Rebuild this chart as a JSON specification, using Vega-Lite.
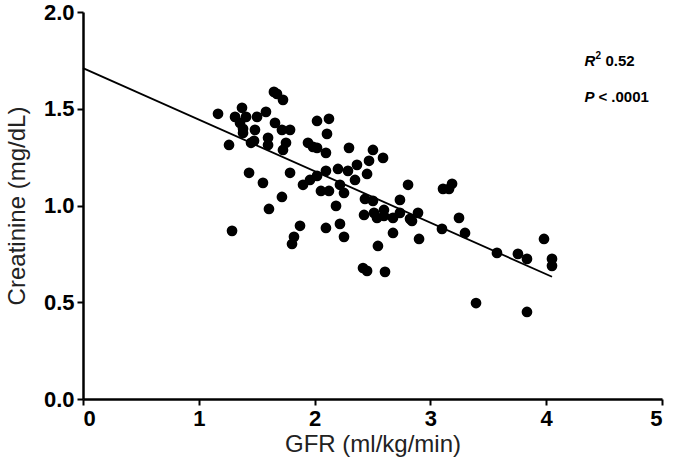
{
  "$schema": "https://vega.github.io/schema/vega-lite/v6.json",
  "width": 579,
  "height": 387,
  "autosize": "none",
  "padding": {"left": 83, "top": 12, "right": 11, "bottom": 68},
  "background": "white",
  "config": {
    "view": {"stroke": null},
    "font": "Liberation Sans",
    "axis": {
      "grid": false,
      "domainColor": "black",
      "domainWidth": 2.5,
      "tickColor": "black",
      "tickWidth": 2,
      "tickSize": 6,
      "labelFont": "Liberation Sans",
      "labelFontWeight": "bold",
      "labelFontSize": 22,
      "labelColor": "black",
      "titleFont": "Liberation Sans",
      "titleFontWeight": "normal",
      "titleFontSize": 24,
      "titleColor": "#222"
    }
  },
  "datasets": {
    "pts": [
      {"gfr": 1.166, "cr": 1.474}, {"gfr": 1.261, "cr": 1.313}, {"gfr": 1.287, "cr": 0.869},
      {"gfr": 1.373, "cr": 1.505}, {"gfr": 1.313, "cr": 1.458}, {"gfr": 1.408, "cr": 1.458},
      {"gfr": 1.356, "cr": 1.427}, {"gfr": 1.382, "cr": 1.396}, {"gfr": 1.382, "cr": 1.375},
      {"gfr": 1.485, "cr": 1.391}, {"gfr": 1.503, "cr": 1.458}, {"gfr": 1.58, "cr": 1.484},
      {"gfr": 1.451, "cr": 1.324}, {"gfr": 1.477, "cr": 1.334}, {"gfr": 1.598, "cr": 1.35},
      {"gfr": 1.598, "cr": 1.313}, {"gfr": 1.658, "cr": 1.427}, {"gfr": 1.649, "cr": 1.587},
      {"gfr": 1.675, "cr": 1.577}, {"gfr": 1.727, "cr": 1.546}, {"gfr": 1.718, "cr": 1.391},
      {"gfr": 1.788, "cr": 1.391}, {"gfr": 1.753, "cr": 1.324}, {"gfr": 1.727, "cr": 1.287},
      {"gfr": 2.021, "cr": 1.437}, {"gfr": 2.124, "cr": 1.448}, {"gfr": 2.107, "cr": 1.37},
      {"gfr": 1.943, "cr": 1.324}, {"gfr": 1.986, "cr": 1.303}, {"gfr": 2.021, "cr": 1.298},
      {"gfr": 2.098, "cr": 1.272}, {"gfr": 1.434, "cr": 1.169}, {"gfr": 1.554, "cr": 1.117},
      {"gfr": 1.788, "cr": 1.169}, {"gfr": 1.9, "cr": 1.107}, {"gfr": 1.96, "cr": 1.132},
      {"gfr": 2.021, "cr": 1.153}, {"gfr": 2.055, "cr": 1.075}, {"gfr": 2.124, "cr": 1.075},
      {"gfr": 1.718, "cr": 1.044}, {"gfr": 1.606, "cr": 0.982}, {"gfr": 1.874, "cr": 0.895},
      {"gfr": 1.822, "cr": 0.838}, {"gfr": 1.805, "cr": 0.801}, {"gfr": 2.098, "cr": 0.884},
      {"gfr": 2.297, "cr": 1.298}, {"gfr": 2.504, "cr": 1.287}, {"gfr": 2.591, "cr": 1.246},
      {"gfr": 2.47, "cr": 1.231}, {"gfr": 2.366, "cr": 1.21}, {"gfr": 2.202, "cr": 1.189},
      {"gfr": 2.288, "cr": 1.179}, {"gfr": 2.098, "cr": 1.179}, {"gfr": 2.453, "cr": 1.163},
      {"gfr": 2.349, "cr": 1.132}, {"gfr": 2.219, "cr": 1.107}, {"gfr": 2.807, "cr": 1.107},
      {"gfr": 2.254, "cr": 1.065}, {"gfr": 3.109, "cr": 1.086}, {"gfr": 3.161, "cr": 1.086},
      {"gfr": 3.187, "cr": 1.112}, {"gfr": 2.435, "cr": 1.034}, {"gfr": 2.504, "cr": 1.024},
      {"gfr": 2.737, "cr": 1.029}, {"gfr": 2.185, "cr": 0.998}, {"gfr": 2.427, "cr": 0.951},
      {"gfr": 2.513, "cr": 0.962}, {"gfr": 2.539, "cr": 0.936}, {"gfr": 2.599, "cr": 0.977},
      {"gfr": 2.599, "cr": 0.946}, {"gfr": 2.677, "cr": 0.936}, {"gfr": 2.737, "cr": 0.962},
      {"gfr": 2.824, "cr": 0.931}, {"gfr": 2.893, "cr": 0.962}, {"gfr": 3.1, "cr": 0.879},
      {"gfr": 2.219, "cr": 0.905}, {"gfr": 2.254, "cr": 0.838}, {"gfr": 2.677, "cr": 0.858},
      {"gfr": 2.902, "cr": 0.827}, {"gfr": 2.547, "cr": 0.791}, {"gfr": 2.418, "cr": 0.677},
      {"gfr": 2.453, "cr": 0.662}, {"gfr": 2.608, "cr": 0.657}, {"gfr": 3.247, "cr": 0.936},
      {"gfr": 3.299, "cr": 0.858}, {"gfr": 3.575, "cr": 0.755}, {"gfr": 3.756, "cr": 0.75},
      {"gfr": 3.834, "cr": 0.724}, {"gfr": 3.981, "cr": 0.827}, {"gfr": 4.05, "cr": 0.724},
      {"gfr": 4.05, "cr": 0.688}, {"gfr": 3.394, "cr": 0.496}, {"gfr": 3.834, "cr": 0.45},
      {"gfr": 2.841, "cr": 0.92}
    ],
    "fit": [
      {"gfr": 0, "cr": 1.71},
      {"gfr": 4.05, "cr": 0.632}
    ]
  },
  "layer": [
    {
      "data": {"name": "fit"},
      "mark": {"type": "line", "color": "black", "strokeWidth": 1.8},
      "encoding": {
        "x": {
          "field": "gfr", "type": "quantitative",
          "scale": {"domain": [0, 5], "nice": false},
          "axis": {"values": [0, 1, 2, 3, 4, 5], "format": "d", "title": "GFR (ml/kg/min)", "titlePadding": 3, "labelPadding": 3}
        },
        "y": {
          "field": "cr", "type": "quantitative",
          "scale": {"domain": [0, 2], "nice": false},
          "axis": {"values": [0, 0.5, 1, 1.5, 2], "format": ".1f", "title": "Creatinine (mg/dL)", "titlePadding": 14, "labelPadding": 3}
        }
      }
    },
    {
      "data": {"name": "pts"},
      "mark": {"type": "circle", "color": "black", "opacity": 1, "size": 115},
      "encoding": {
        "x": {"field": "gfr", "type": "quantitative"},
        "y": {"field": "cr", "type": "quantitative"}
      }
    },
    {
      "data": {"values": [{"t": "R"}]},
      "mark": {"type": "text", "align": "left", "baseline": "alphabetic", "fontSize": 15, "fontWeight": "bold", "fontStyle": "italic", "color": "black"},
      "encoding": {"x": {"datum": 4.33}, "y": {"datum": 1.72}, "text": {"field": "t"}}
    },
    {
      "data": {"values": [{"t": "2"}]},
      "mark": {"type": "text", "align": "left", "baseline": "alphabetic", "fontSize": 10, "fontWeight": "bold", "color": "black", "dx": 11, "dy": -7},
      "encoding": {"x": {"datum": 4.33}, "y": {"datum": 1.72}, "text": {"field": "t"}}
    },
    {
      "data": {"values": [{"t": "0.52"}]},
      "mark": {"type": "text", "align": "left", "baseline": "alphabetic", "fontSize": 15, "fontWeight": "bold", "color": "black", "dx": 21},
      "encoding": {"x": {"datum": 4.33}, "y": {"datum": 1.72}, "text": {"field": "t"}}
    },
    {
      "data": {"values": [{"t": "P"}]},
      "mark": {"type": "text", "align": "left", "baseline": "alphabetic", "fontSize": 15, "fontWeight": "bold", "fontStyle": "italic", "color": "black"},
      "encoding": {"x": {"datum": 4.33}, "y": {"datum": 1.535}, "text": {"field": "t"}}
    },
    {
      "data": {"values": [{"t": "< .0001"}]},
      "mark": {"type": "text", "align": "left", "baseline": "alphabetic", "fontSize": 15, "fontWeight": "bold", "color": "black", "dx": 14},
      "encoding": {"x": {"datum": 4.33}, "y": {"datum": 1.535}, "text": {"field": "t"}}
    }
  ]
}
